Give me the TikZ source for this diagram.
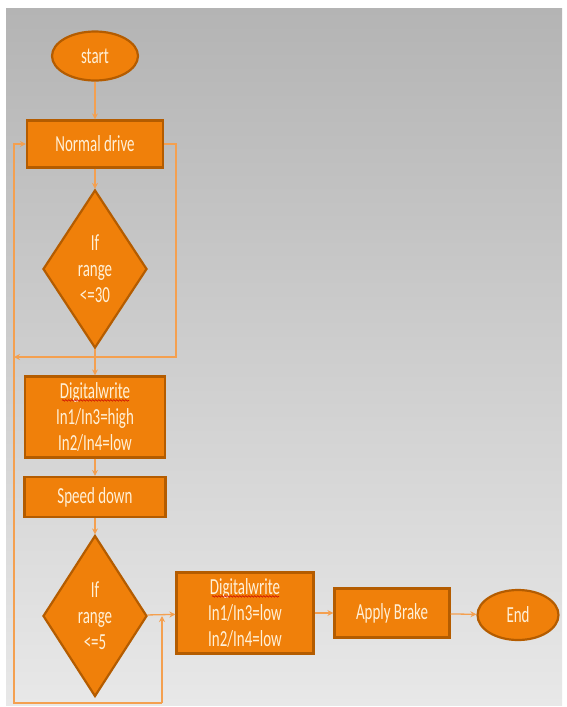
\documentclass[tikz,border=0pt]{standalone}
\usepackage{fontspec}
\newfontfamily\fnt[FakeStretch=0.65]{Carlito}
\usetikzlibrary{shapes.geometric,arrows.meta,decorations.pathmorphing}
\definecolor{boxfill}{RGB}{240,128,10}
\definecolor{boxline}{RGB}{180,92,0}
\definecolor{txt}{RGB}{255,240,215}
\definecolor{conncol}{RGB}{244,160,80}
\definecolor{bgtop}{RGB}{180,180,180}
\definecolor{bgbot}{RGB}{232,232,232}
\tikzset{
  base/.style={fill=boxfill, draw=boxline, line width=2.2pt, text=txt,
    font=\fnt\fontsize{23}{26}\selectfont, align=center, inner sep=0pt},
  procbox/.style={base, rectangle},
  termnode/.style={base, ellipse},
  decnode/.style={base, diamond, shape aspect=0.66},
  conn/.style={draw=conncol, line width=1.3pt, -{Stealth[length=6pt,width=6pt]}},
  squig/.style={draw=red!80!black, line width=0.5pt, decorate,
    decoration={snake, amplitude=0.8pt, segment length=3pt}}
}
\begin{document}
\begin{tikzpicture}[x=1pt,y=-1pt]
\useasboundingbox (0,0) rectangle (566,707);
\fill[white] (0,0) rectangle (566,707);
\shade[top color=bgtop, bottom color=bgbot] (6,8) rectangle (562,705);

\node[termnode, minimum width=86pt, minimum height=49pt] (start) at (95,56) {start};
\node[procbox, minimum width=136pt, minimum height=47pt] (nd) at (95,144) {Normal drive};
\node[decnode, minimum width=104pt, minimum height=158pt] (d1) at (95,269) {If\\range\\<=30};
\node[procbox, minimum width=140pt, minimum height=81pt] (dw1) at (95,417) {Digitalwrite\\In1/In3=high\\In2/In4=low};
\node[procbox, minimum width=141pt, minimum height=40pt] (sd) at (95,497) {Speed down};
\node[decnode, minimum width=104pt, minimum height=161pt] (d2) at (95,616) {If\\range\\<=5};
\node[procbox, minimum width=137pt, minimum height=81pt] (dw2) at (245,613) {Digitalwrite\\In1/In3=low\\In2/In4=low};
\node[procbox, minimum width=115pt, minimum height=49pt] (ab) at (392,613) {Apply Brake};
\node[termnode, minimum width=81pt, minimum height=50pt] (end) at (518,615) {End};

\draw[squig] ([xshift=-33pt,yshift=-25pt]dw1.north) -- ++(67,0);
\draw[squig] ([xshift=-33pt,yshift=-25pt]dw2.north) -- ++(67,0);

\coordinate (r1) at (176,357);
\coordinate (l1) at (14,357);
\coordinate (bl) at (14,703);
\coordinate (br) at (162,703);
\coordinate (bj) at (162,616);

\draw[conn] (start) -- (nd);
\draw[conn] (nd) -- (d1);
\draw[conn] (nd.east) -| (r1) -- (l1);
\draw[conn] (d1) -- (dw1);
\draw[conn] (dw1) -- (sd);
\draw[conn] (sd) -- (d2);
\draw[conn] (d2) -- (dw2);
\draw[conn] (dw2) -- (ab);
\draw[conn] (ab) -- (end);
\draw[conn] (br) -- (bj);
\draw[conn] (br) -- (bl) |- (nd.west);
\end{tikzpicture}
\end{document}
